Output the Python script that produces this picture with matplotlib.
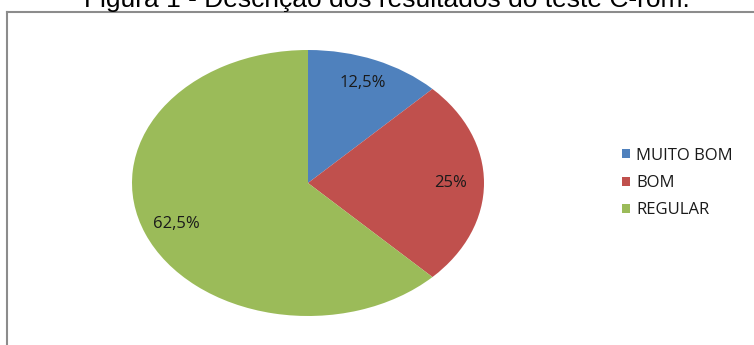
import matplotlib
matplotlib.use('Agg')
import matplotlib.pyplot as plt
from matplotlib.lines import Line2D

categorias = ['MUITO BOM', 'BOM', 'REGULAR']
percentuais = [12.5, 25, 62.5]
cores = ['#4F81BD', '#C0504D', '#9BBB59']
titulo = 'Figura 1 - Descrição dos resultados do teste C-rom.'

W, H = 754, 345
fig = plt.figure(figsize=(W / 100, H / 100), dpi=100)
fig.patch.set_facecolor('white')


def fmt_pct(p):
    # 12.5 -> "12,5%", 25.0 -> "25%"
    s = f'{p:.1f}'.rstrip('0').rstrip('.')
    return s.replace('.', ',') + '%'


# area do grafico (pizza achatada em elipse)
ax = fig.add_axes([132 / W, 29 / H, 352 / W, 266 / H])
wedges, texts, autotexts = ax.pie(percentuais, colors=cores, startangle=90,
                                  counterclock=False, autopct=fmt_pct,
                                  pctdistance=0.81,
                                  textprops={'family': 'Open Sans', 'fontsize': 12,
                                             'color': '#1a1a1a'})
for w in wedges:
    w.set_clip_on(False)
ax.set_aspect('auto')
ax.set_xlim(-1, 1)
ax.set_ylim(-1, 1)
ax.axis('off')

# legenda a direita
leg = ax.legend(wedges, categorias, loc='center left',
                bbox_to_anchor=(622 / W, 1 - 183 / H),
                bbox_transform=fig.transFigure, frameon=False,
                borderpad=0, borderaxespad=0, handlelength=0.45, handleheight=0.45,
                handletextpad=0.42, labelspacing=0.68,
                prop={'family': 'Open Sans', 'size': 12})
for t in leg.get_texts():
    t.set_color('#1a1a1a')

# moldura do quadro
fig.add_artist(Line2D([7 / W, 1], [1 - 12 / H, 1 - 12 / H], transform=fig.transFigure,
                      color='#8c8c8c', lw=1.5))
fig.add_artist(Line2D([7 / W, 7 / W], [0, 1 - 12 / H], transform=fig.transFigure,
                      color='#8c8c8c', lw=1.5))

# titulo (parcialmente cortado no topo)
fig.text(387 / W, 1 - 7 / H, titulo, ha='center', va='baseline',
         family='Liberation Sans', fontsize=19, color='black')

fig.savefig('out.png', dpi=100)
